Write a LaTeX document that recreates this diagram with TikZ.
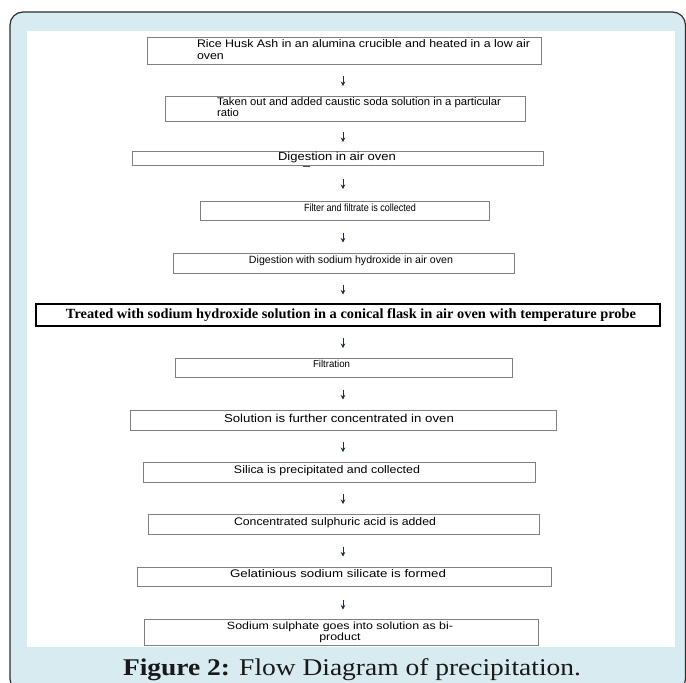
\documentclass[tikz,border=0pt]{standalone}
\usepackage{fontspec}
\setmainfont{Liberation Serif}
\setsansfont{Liberation Sans}
\usepackage{graphicx}
\usetikzlibrary{arrows.meta}
\definecolor{framebg}{HTML}{D7EBF0}
\definecolor{frameline}{HTML}{2E2E2E}
\definecolor{boxline}{HTML}{808080}
\definecolor{arrowc}{HTML}{1E2D4F}
\newcommand{\fitw}[2]{\resizebox{#1}{\height}{#2}}
\begin{document}
\begin{tikzpicture}[x=1pt,y=-1pt,
  box/.style={draw=boxline, line width=1pt, fill=white, anchor=north west, inner sep=0pt, outer sep=0pt},
  darkbox/.style={box, draw=black, line width=1.3pt},
  txt/.style={inner sep=0pt, outer sep=0pt, text=black, font=\sffamily},
  captxt/.style={inner sep=0pt, outer sep=0pt, text=black!90, font=\rmfamily},
  arr/.style={draw=arrowc, line width=0.9pt, -{Stealth[length=4.5pt,width=4.5pt]}}]
\useasboundingbox (0,0) rectangle (686,683);
\begin{scope}
\clip (0,0) rectangle (686,683);
\draw[fill=framebg, draw=frameline, line width=1.2pt, rounded corners=13pt] (10,12) rectangle (685.5,692);
\end{scope}
\fill[white] (27,31) rectangle (675,647);

% boxes
\node[box, minimum width=394pt, minimum height=27pt] (b1) at (147,37) {};
\node[box, minimum width=360pt, minimum height=25pt] (b2) at (165,96) {};
\node[box, minimum width=411pt, minimum height=14pt] (b3) at (132,151) {};
\node[box, minimum width=289pt, minimum height=19pt] (b4) at (200,201) {};
\node[box, minimum width=341pt, minimum height=20pt] (b5) at (173,253) {};
\node[darkbox, minimum width=624pt, minimum height=22pt] (b6) at (36,304) {};
\node[box, minimum width=337pt, minimum height=19pt] (b7) at (175,358) {};
\node[box, minimum width=426pt, minimum height=20pt] (b8) at (130,410) {};
\node[box, minimum width=392pt, minimum height=20pt] (b9) at (143,462) {};
\node[box, minimum width=391pt, minimum height=20pt] (b10) at (148,514) {};
\node[box, minimum width=414pt, minimum height=19pt] (b11) at (137,567) {};
\node[box, minimum width=394pt, minimum height=26pt] (b12) at (144,619) {};

% small mark under box 3
\draw[black!70, line width=1pt] (303,166.5) -- (310,166.5);

% texts
\node[txt, anchor=base west] (t1) at (197,47) {\fontsize{11}{12.5}\selectfont\fitw{333pt}{\begin{tabular}[t]{@{}l@{}}Rice Husk Ash in an alumina crucible and heated in a low air\\oven\end{tabular}}};
\node[txt, anchor=base west] (t2) at (217,105.5) {\fontsize{11}{11}\selectfont\fitw{284pt}{\begin{tabular}[t]{@{}l@{}}Taken out and added caustic soda solution in a particular\\ratio\end{tabular}}};
\node[txt, anchor=base] (t3) at (337,160) {\fontsize{11.5}{13}\selectfont\fitw{118pt}{Digestion in air oven}};
\node[txt, anchor=base] (t4) at (360,211.5) {\fontsize{10.5}{12}\selectfont\fitw{112pt}{Filter and filtrate is collected}};
\node[txt, anchor=base] (t5) at (351,263.5) {\fontsize{10.5}{12}\selectfont\fitw{204pt}{Digestion with sodium hydroxide in air oven}};
\node[txt, anchor=base, font=\rmfamily\bfseries] (t6) at (351,318.5) {\fontsize{14}{16}\selectfont\fitw{570pt}{Treated with sodium hydroxide solution in a conical flask in air oven with temperature probe}};
\node[txt, anchor=base] (t7) at (331.5,367.5) {\fontsize{10}{12}\selectfont\fitw{37pt}{Filtration}};
\node[txt, anchor=base] (t8) at (339,422) {\fontsize{11.5}{13}\selectfont\fitw{230pt}{Solution is further concentrated in oven}};
\node[txt, anchor=base] (t9) at (327,473) {\fontsize{11}{13}\selectfont\fitw{186pt}{Silica is precipitated and collected}};
\node[txt, anchor=base] (t10) at (335,525) {\fontsize{11}{13}\selectfont\fitw{202pt}{Concentrated sulphuric acid is added}};
\node[txt, anchor=base] (t11) at (338,577) {\fontsize{11}{13}\selectfont\fitw{216pt}{Gelatinious sodium silicate is formed}};
\node[txt, anchor=base] (t12) at (340,629.5) {\fontsize{10.5}{10.5}\selectfont\fitw{226pt}{\begin{tabular}[t]{@{}c@{}}Sodium sulphate goes into solution as bi-\\product\end{tabular}}};

% arrows
\coordinate (ax) at (343,0);
\draw[arr, shorten <=12pt, shorten >=10pt] (b1.south -| ax) -- (b2.north -| ax);
\draw[arr, shorten <=11pt, shorten >=9pt] (b2.south -| ax) -- (b3.north -| ax);
\draw[arr, shorten <=14pt, shorten >=12pt] (b3.south -| ax) -- (b4.north -| ax);
\draw[arr, shorten <=12.5pt, shorten >=10.5pt] (b4.south -| ax) -- (b5.north -| ax);
\draw[arr, shorten <=11.5pt, shorten >=9.5pt] (b5.south -| ax) -- (b6.north -| ax);
\draw[arr, shorten <=12pt, shorten >=10pt] (b6.south -| ax) -- (b7.north -| ax);
\draw[arr, shorten <=12.5pt, shorten >=10.5pt] (b7.south -| ax) -- (b8.north -| ax);
\draw[arr, shorten <=12pt, shorten >=10pt] (b8.south -| ax) -- (b9.north -| ax);
\draw[arr, shorten <=12pt, shorten >=10pt] (b9.south -| ax) -- (b10.north -| ax);
\draw[arr, shorten <=12.5pt, shorten >=10.5pt] (b10.south -| ax) -- (b11.north -| ax);
\draw[arr, shorten <=13.5pt, shorten >=9.5pt] (b11.south -| ax) -- (b12.north -| ax);

% caption
\node[captxt, anchor=base west] (cap) at (123,675) {\fontsize{24}{28}\selectfont\fitw{458pt}{\textbf{Figure 2:} Flow Diagram of precipitation.}};
\end{tikzpicture}
\end{document}
